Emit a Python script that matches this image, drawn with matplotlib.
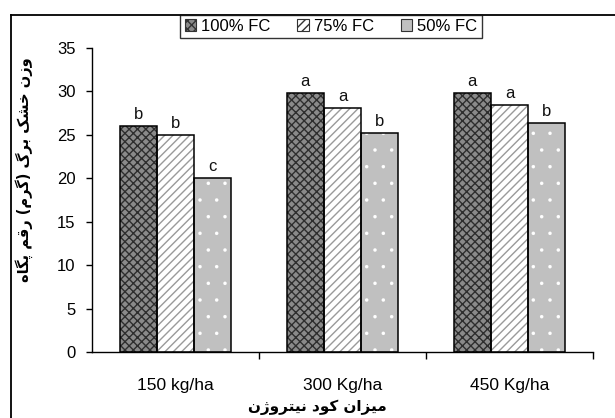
import matplotlib
matplotlib.use("Agg")
import matplotlib.pyplot as plt
from matplotlib.lines import Line2D
from matplotlib.patches import Patch
import numpy as np

categories = ["150 kg/ha", "300 Kg/ha", "450 Kg/ha"]
series_names = ["100% FC", "75% FC", "50% FC"]
fc100 = [26.0, 29.8, 29.8]
fc75 = [25.0, 28.1, 28.4]
fc50 = [20.0, 25.2, 26.4]
letters100 = ["b", "a", "a"]
letters75 = ["b", "a", "a"]
letters50 = ["c", "b", "b"]
yticks = [0, 5, 10, 15, 20, 25, 30, 35]
ylabel_text = "وزن خشک برگ (گرم) رقم پگاه"
xlabel_text = "میزان کود نیتروژن"

# ---- minimal Arabic/Persian shaper (contextual forms + visual order) ----
FORMS = {
    'ا': ('\uFE8D', '\uFE8E', None, None),
    'ب': ('\uFE8F', '\uFE90', '\uFE91', '\uFE92'),
    'پ': ('\uFB56', '\uFB57', '\uFB58', '\uFB59'),
    'ت': ('\uFE95', '\uFE96', '\uFE97', '\uFE98'),
    'خ': ('\uFEA5', '\uFEA6', '\uFEA7', '\uFEA8'),
    'د': ('\uFEA9', '\uFEAA', None, None),
    'ر': ('\uFEAD', '\uFEAE', None, None),
    'ز': ('\uFEAF', '\uFEB0', None, None),
    'ژ': ('\uFB8A', '\uFB8B', None, None),
    'س': ('\uFEB1', '\uFEB2', '\uFEB3', '\uFEB4'),
    'ش': ('\uFEB5', '\uFEB6', '\uFEB7', '\uFEB8'),
    'ق': ('\uFED5', '\uFED6', '\uFED7', '\uFED8'),
    'ک': ('\uFB8E', '\uFB8F', '\uFB90', '\uFB91'),
    'گ': ('\uFB92', '\uFB93', '\uFB94', '\uFB95'),
    'م': ('\uFEE1', '\uFEE2', '\uFEE3', '\uFEE4'),
    'ن': ('\uFEE5', '\uFEE6', '\uFEE7', '\uFEE8'),
    'و': ('\uFEED', '\uFEEE', None, None),
    'ه': ('\uFEE9', '\uFEEA', '\uFEEB', '\uFEEC'),
    'ی': ('\uFBFC', '\uFBFD', '\uFBFE', '\uFBFF'),
}


def joins_next(c):
    return c in FORMS and FORMS[c][2] is not None


def shape(text):
    out = []
    n = len(text)
    for i, c in enumerate(text):
        if c not in FORMS:
            out.append(c)
            continue
        prev = text[i - 1] if i > 0 else ''
        nxt = text[i + 1] if i + 1 < n else ''
        jp = joins_next(prev)
        jn = joins_next(c) and nxt in FORMS
        iso, fin, ini, med = FORMS[c]
        if jp and jn:
            out.append(med)
        elif jp:
            out.append(fin)
        elif jn:
            out.append(ini)
        else:
            out.append(iso)
    vis = ''.join(reversed(out))
    vis = vis.replace('(', '\x00').replace(')', '(').replace('\x00', ')')
    return vis


W, H = 615, 418
fig = plt.figure(figsize=(W / 100, H / 100), dpi=100)
fig.patch.set_facecolor('white')
plt.rcParams['font.family'] = ['Liberation Sans', 'DejaVu Sans']

ax = fig.add_axes([92 / W, 1 - 352 / H, (593 - 92) / W, (352 - 48) / H])

x = np.arange(len(categories))
bw = 0.222
styles = [
    dict(face='#8a8a8a', hatch='xxxx', hc='#2e2e2e', hlw=1.0),
    dict(face='white', hatch='////', hc='#9a9a9a', hlw=1.0),
    dict(face='#c0c0c0', hatch='.', hc='white', hlw=0.1),
]
all_vals = [fc100, fc75, fc50]
all_letters = [letters100, letters75, letters50]
for k, (vals, st, lets) in enumerate(zip(all_vals, styles, all_letters)):
    pos = x + (k - 1) * bw
    with plt.rc_context({'hatch.linewidth': st['hlw']}):
        ax.bar(pos, vals, bw, color=st['face'], hatch=st['hatch'],
               edgecolor=st['hc'], linewidth=0, zorder=2)
    ax.bar(pos, vals, bw, fill=False, edgecolor='black', linewidth=1.1, zorder=3)
    for p, v, l in zip(pos, vals, lets):
        ax.text(p, v + 0.45, l, ha='center', va='bottom', fontsize=12,
                color='#111111')

ax.set_xlim(-0.5, 2.5)
ax.set_ylim(0, 35)
ax.set_yticks(yticks)
ax.tick_params(axis='y', direction='out', length=4, width=1, pad=8,
               labelsize=12)
ax.set_xticks(x)
ax.set_xticklabels(categories)
ax.set_xticks([0.5, 1.5, 2.5], minor=True)
ax.tick_params(axis='x', which='major', length=0, pad=19, labelsize=12.5)
ax.tick_params(axis='x', which='minor', direction='out', length=5, width=1)
for s in ['top', 'right']:
    ax.spines[s].set_visible(False)
ax.spines['left'].set_linewidth(1)
ax.spines['bottom'].set_linewidth(1)

# axis titles (bold Persian)
fig.text(317 / W, 1 - 407 / H, shape(xlabel_text), ha='center', va='center',
         fontsize=11, fontweight='bold', family=['DejaVu Sans'])
fig.text(24 / W, 1 - 170 / H, shape(ylabel_text), ha='center', va='center',
         rotation=90, fontsize=10.5, fontweight='bold', family=['DejaVu Sans'])

# outer frame (top and left)
ytop = 1 - 15 / H
xl = 11 / W
fig.add_artist(Line2D([xl, 1], [ytop, ytop], transform=fig.transFigure,
                      color='black', lw=1.3))
fig.add_artist(Line2D([xl, xl], [0, ytop], transform=fig.transFigure,
                      color='black', lw=1.3))

handles = [Patch(facecolor=st['face'], hatch=st['hatch'], edgecolor='#333333',
                 linewidth=0.8) for st in styles]
leg = fig.legend(handles, series_names, loc='upper center', ncol=3,
                 bbox_to_anchor=(331 / W, ytop), frameon=True, fancybox=False,
                 edgecolor='black', fontsize=12, handlelength=0.7,
                 handleheight=0.7, handletextpad=0.3, columnspacing=1.6,
                 borderpad=0.25, borderaxespad=0)
leg.get_frame().set_linewidth(1)

fig.savefig('out.png', dpi=100, facecolor='white')
